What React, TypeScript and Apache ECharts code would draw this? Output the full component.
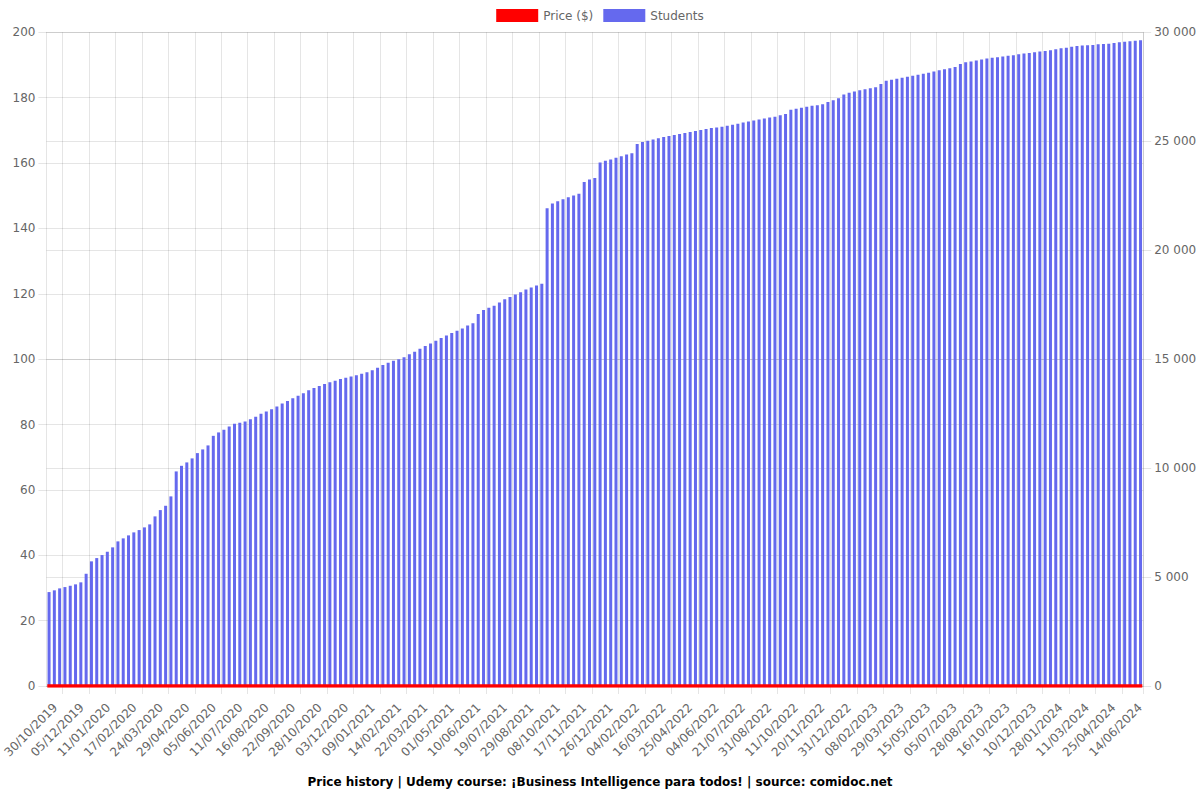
import React, { useEffect, useRef } from 'react';
import * as echarts from 'echarts';

// Tick labels visible on the x axis (every fifth bar boundary, plus the final tick)
const tickLabels = [
  '30/10/2019', '05/12/2019', '11/01/2020', '17/02/2020', '24/03/2020', '29/04/2020',
  '05/06/2020', '11/07/2020', '16/08/2020', '22/09/2020', '28/10/2020', '03/12/2020',
  '09/01/2021', '14/02/2021', '22/03/2021', '01/05/2021', '10/06/2021', '19/07/2021',
  '29/08/2021', '08/10/2021', '17/11/2021', '26/12/2021', '04/02/2022', '16/03/2022',
  '25/04/2022', '04/06/2022', '21/07/2022', '31/08/2022', '11/10/2022', '20/11/2022',
  '31/12/2022', '08/02/2023', '29/03/2023', '15/05/2023', '05/07/2023', '28/08/2023',
  '16/10/2023', '10/12/2023', '28/01/2024', '11/03/2024', '25/04/2024', '14/06/2024',
];

// Students (right axis), read bar by bar
const students2019to2020 = [
  4310, 4390, 4480, 4540, 4600, 4665, 4757, 5151, 5720, 5871, 6009, 6161,
  6362, 6637, 6775, 6912, 7050, 7156, 7279, 7417, 7784, 8073, 8271, 8702,
  9848, 10105, 10261, 10445, 10688, 10857, 11041, 11481, 11637, 11757, 11913, 12032,
];
const students2020to2021 = [
  12080, 12135, 12240, 12360, 12495, 12600, 12705, 12825, 12960, 13080, 13200, 13320,
  13440, 13575, 13680, 13770, 13860, 13935, 14010, 14085, 14145, 14205, 14265, 14325,
  14400, 14490, 14610, 14730, 14835, 14925, 15000, 15090, 15225, 15345, 15480, 15600,
  15720, 15840, 15975, 16080, 16200, 16305, 16410, 16545, 16650, 17070, 17250, 17355,
  17445, 17595, 17745, 17850, 17970,
];
const students2021to2022 = [
  18075, 18195, 18285, 18375, 18465, 21930, 22140, 22245, 22335, 22425, 22515, 22590,
  23130, 23250, 23310, 24030, 24105, 24165, 24240, 24315, 24390, 24450, 24870, 24960,
  25020, 25080, 25140, 25200, 25245, 25290, 25335, 25380, 25425, 25470, 25515, 25560,
  25605, 25635, 25665, 25710, 25755, 25800, 25860, 25905, 25950, 25995, 26040, 26085,
  26130, 26190, 26250,
];
const students2022to2023 = [
  26445, 26490, 26535, 26580, 26625, 26655, 26700, 26805, 26880, 26970, 27150, 27225,
  27285, 27345, 27390, 27435, 27480, 27630, 27780, 27825, 27870, 27915, 27960, 28005,
  28050, 28095, 28140, 28200, 28260, 28305, 28350, 28410, 28545, 28620, 28665, 28710,
  28755, 28800, 28830, 28860, 28890, 28920, 28950, 28995, 29025, 29055, 29085, 29115,
  29145,
];
const students2024 = [
  29175, 29220, 29265, 29295, 29340, 29375, 29390, 29405, 29420, 29450, 29465, 29480,
  29510, 29540, 29570, 29585, 29615, 29630,
];

// Price ($), left axis: free course, 0 at every point
const priceValues = [
  0, 0, 0, 0, 0, 0, 0, 0, 0, 0, 0, 0, 0, 0, 0, 0, 0, 0, 0, 0, 0, 0, 0, 0, 0, 0, 0, 0, 0, 0,
  0, 0, 0, 0, 0, 0, 0, 0, 0, 0, 0, 0, 0, 0, 0, 0, 0, 0, 0, 0, 0, 0, 0, 0, 0, 0, 0, 0, 0, 0,
  0, 0, 0, 0, 0, 0, 0, 0, 0, 0, 0, 0, 0, 0, 0, 0, 0, 0, 0, 0, 0, 0, 0, 0, 0, 0, 0, 0, 0, 0,
  0, 0, 0, 0, 0, 0, 0, 0, 0, 0, 0, 0, 0, 0, 0, 0, 0, 0, 0, 0, 0, 0, 0, 0, 0, 0, 0, 0, 0, 0,
  0, 0, 0, 0, 0, 0, 0, 0, 0, 0, 0, 0, 0, 0, 0, 0, 0, 0, 0, 0, 0, 0, 0, 0, 0, 0, 0, 0, 0, 0,
  0, 0, 0, 0, 0, 0, 0, 0, 0, 0, 0, 0, 0, 0, 0, 0, 0, 0, 0, 0, 0, 0, 0, 0, 0, 0, 0, 0, 0, 0,
  0, 0, 0, 0, 0, 0, 0, 0, 0, 0, 0, 0, 0, 0, 0, 0, 0, 0, 0, 0, 0, 0, 0, 0, 0, 0, 0,
];

const studentsValues = [
  ...students2019to2020,
  ...students2020to2021,
  ...students2021to2022,
  ...students2022to2023,
  ...students2024,
];

const barSlots = studentsValues.map((_, i) => `#${i + 1}`);

const TITLE = 'Price history | Udemy course: ¡Business Intelligence para todos! | source: comidoc.net';

export default function App() {
  const ref = useRef<HTMLDivElement>(null);

  useEffect(() => {
    document.body.style.margin = '0';
    const chart = echarts.init(ref.current as HTMLDivElement, null, { renderer: 'svg' });
    const W = 1200;
    const plotLeft = 46.4;
    const plotRight = 56.8;
    const plotTop = 32.3;
    const plotBottom = 114;
    const slot = (W - plotLeft - plotRight) / studentsValues.length;
    const gridColor = 'rgba(0,0,0,0.1)';
    const font = 'DejaVu Sans';
    const everyFifth = (i: number) => i % 5 === 3;
    const thousands = (v: number) => String(v).replace(/\B(?=(\d{3})+(?!\d))/g, '\u00a0');

    chart.setOption({
      animation: false,
      textStyle: { fontFamily: font },
      title: {
        text: TITLE,
        left: 'center',
        top: 771,
        textStyle: { fontSize: 12, fontWeight: 'bold', color: '#000', fontFamily: font },
      },
      legend: {
        top: 4,
        left: 'center',
        itemWidth: 42,
        itemHeight: 13,
        itemGap: 10,
        textStyle: { fontSize: 12, color: '#666', fontFamily: font },
        data: [
          { name: 'Price ($)', icon: 'rect' },
          { name: 'Students', icon: 'rect' },
        ],
      },
      grid: [
        { left: plotLeft, right: plotRight, top: plotTop, bottom: plotBottom },
        {
          left: plotLeft + 3 * slot,
          width: 5 * slot * (tickLabels.length - 1),
          top: plotTop,
          bottom: plotBottom,
        },
      ],
      xAxis: [
        {
          type: 'category',
          gridIndex: 0,
          data: barSlots,
          boundaryGap: true,
          axisLine: { show: true, lineStyle: { color: gridColor } },
          axisTick: { show: true, interval: everyFifth, length: 8, lineStyle: { color: gridColor } },
          splitLine: { show: true, interval: everyFifth, lineStyle: { color: gridColor } },
          axisLabel: { show: false },
        },
        {
          type: 'category',
          gridIndex: 1,
          data: tickLabels,
          boundaryGap: false,
          axisLine: { show: false },
          axisTick: { show: false },
          splitLine: { show: false },
          axisLabel: {
            interval: 0,
            rotate: 45,
            margin: 11,
            padding: [0, 12, 0, 0],
            color: '#666',
            fontSize: 12,
            fontFamily: font,
          },
        },
      ],
      yAxis: [
        {
          type: 'value',
          gridIndex: 0,
          position: 'left',
          min: 0,
          max: 200,
          interval: 20,
          axisLine: { show: true, lineStyle: { color: gridColor } },
          axisTick: { show: true, length: 8, lineStyle: { color: gridColor } },
          splitLine: { show: true, lineStyle: { color: gridColor } },
          axisLabel: { margin: 11, color: '#666', fontSize: 12, fontFamily: font },
        },
        {
          type: 'value',
          gridIndex: 0,
          position: 'right',
          min: 0,
          max: 30000,
          interval: 5000,
          axisLine: { show: true, lineStyle: { color: gridColor } },
          axisTick: { show: true, length: 8, lineStyle: { color: gridColor } },
          splitLine: { show: true, lineStyle: { color: gridColor } },
          axisLabel: { margin: 11, color: '#666', fontSize: 12, fontFamily: font, formatter: thousands },
        },
        { type: 'value', gridIndex: 1, show: false },
      ],
      series: [
        {
          name: 'Students',
          type: 'bar',
          xAxisIndex: 0,
          yAxisIndex: 1,
          data: studentsValues,
          barWidth: 3,
          itemStyle: { color: '#6569ee' },
        },
        {
          name: 'Price ($)',
          type: 'line',
          xAxisIndex: 0,
          yAxisIndex: 0,
          data: priceValues,
          symbol: 'none',
          lineStyle: { color: '#ff0000', width: 3.5, cap: 'square' },
          itemStyle: { color: '#ff0000' },
          z: 3,
        },
      ],
    });

    return () => chart.dispose();
  }, []);

  return <div ref={ref} style={{ width: 1200, height: 800 }} />;
}
